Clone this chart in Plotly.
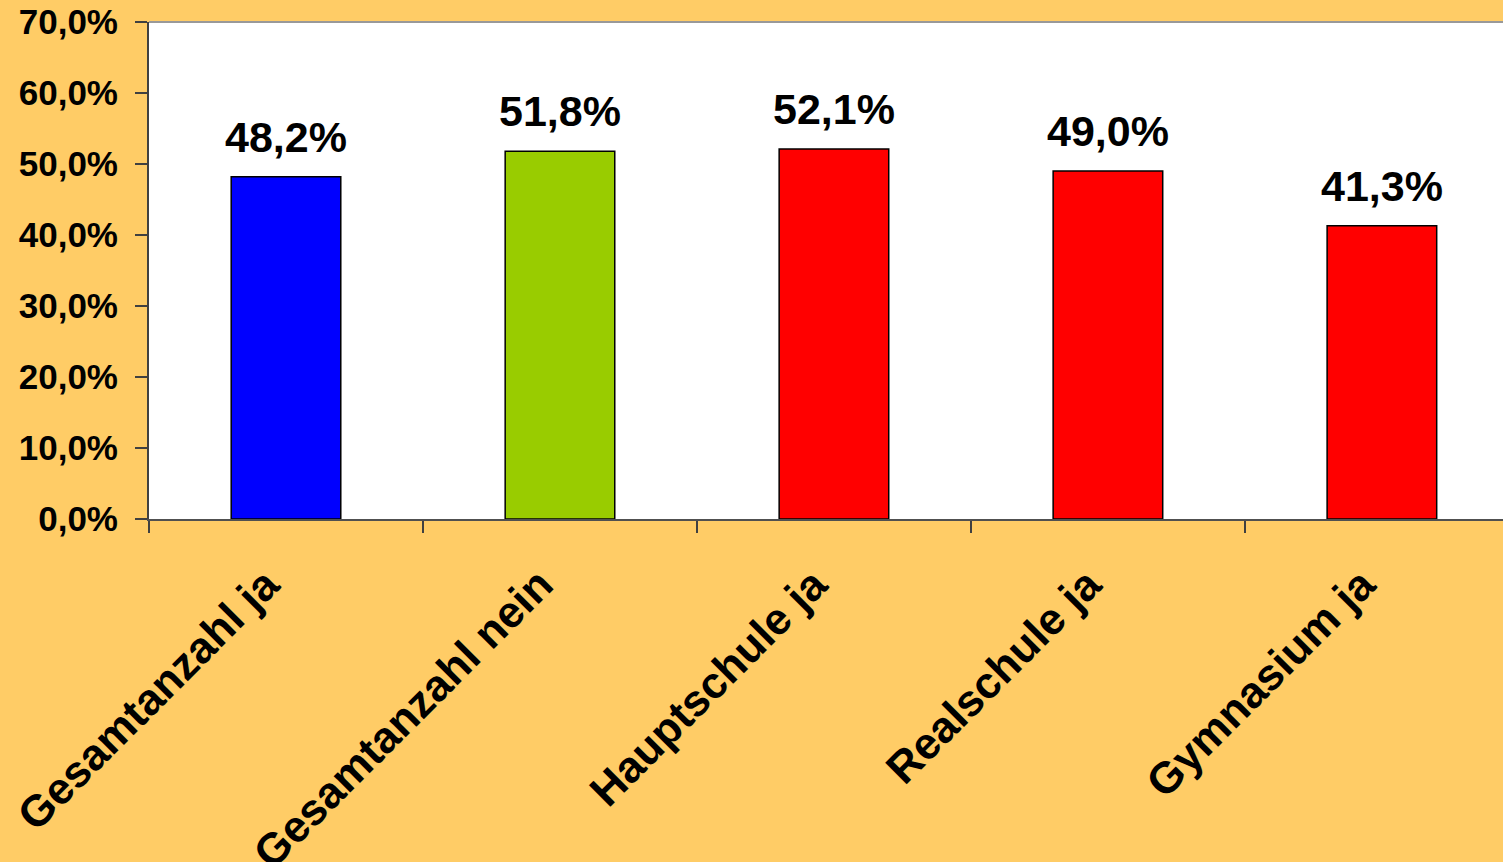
import plotly.graph_objects as go

categories = ["Gesamtanzahl ja", "Gesamtanzahl nein", "Hauptschule ja", "Realschule ja", "Gymnasium ja"]
values = [48.2, 51.8, 52.1, 49.0, 41.3]
colors = ["#0000FF", "#99CC00", "#FF0000", "#FF0000", "#FF0000"]
y_ticks = [0, 10, 20, 30, 40, 50, 60, 70]
y_ticktext = [f"{v:.1f}%".replace(".", ",") for v in y_ticks]

FONT = "Liberation Sans, Arial, sans-serif"

fig = go.Figure()
fig.add_trace(go.Bar(
    x=categories, y=values, width=0.4,
    marker=dict(color=colors, line=dict(color="#000000", width=1.5)),
    hoverinfo="skip",
))

for c, v in zip(categories, values):
    fig.add_annotation(
        x=c, y=v, text=f"<b>{v:.1f}%</b>".replace(".", ","),
        showarrow=False, yanchor="bottom", yshift=14,
        font=dict(family=FONT, size=43, color="#000000"),
    )

# plot-area top border
fig.add_shape(type="line", xref="paper", yref="paper", x0=0, x1=1, y0=1, y1=1,
              line=dict(color="#999999", width=2))

fig.update_layout(
    width=1503, height=862,
    paper_bgcolor="#FFCC66", plot_bgcolor="#FFFFFF",
    margin=dict(l=149, r=0, t=22, b=343),
    showlegend=False,
    xaxis=dict(
        range=[-0.5, 4.442], tickson="boundaries", ticks="outside", ticklen=12,
        tickcolor="#404040", tickwidth=1.5, automargin=False,
        showline=True, linecolor="#505050", linewidth=2,
        tickangle=-45, showgrid=False,
        ticklabelstandoff=20, ticklabelshift=-20,
        tickfont=dict(family=FONT, size=44, color="#000000", weight="bold"),
    ),
    yaxis=dict(
        range=[0, 70], tickvals=y_ticks, ticktext=y_ticktext, automargin=False,
        ticks="outside", ticklen=12, tickcolor="#404040", tickwidth=1.5,
        ticklabelstandoff=10,
        showline=True, linecolor="#404040", linewidth=2, showgrid=False, zeroline=False,
        tickfont=dict(family=FONT, size=35, color="#000000", weight="bold"),
    ),
)

fig.write_html("out.html", config={"displayModeBar": False},
               post_script="document.body.style.margin='0';document.body.style.background='#FFCC66';")
